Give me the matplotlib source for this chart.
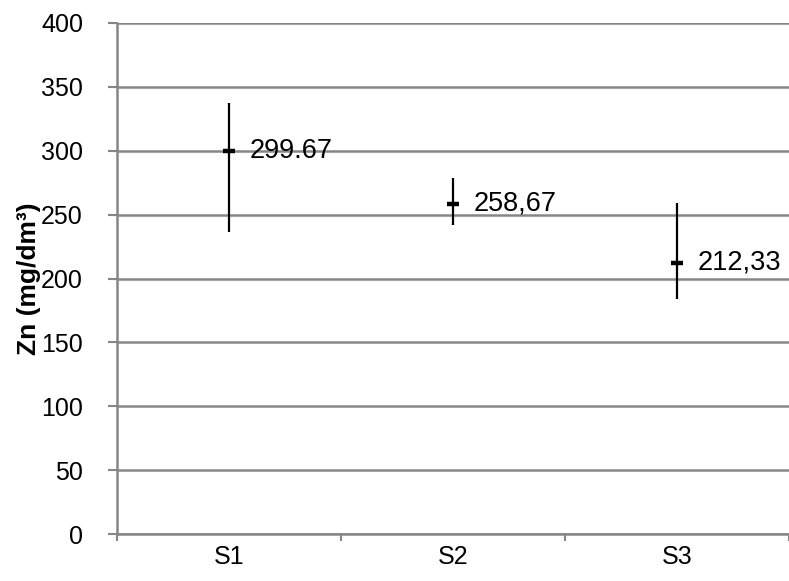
import matplotlib.pyplot as plt
import numpy as np

plt.rcParams['font.family'] = ['Liberation Sans', 'DejaVu Sans']

samples = ['S1', 'S2', 'S3']
means = [299.67, 258.67, 212.33]
highs = [337.5, 278.7, 258.8]
lows = [236.7, 241.7, 183.6]
value_labels = ['299.67', '258,67', '212,33']

grid_color = '#868686'

fig = plt.figure(figsize=(7.89, 5.81), dpi=100)
ax = fig.add_axes([117 / 789, 47 / 581, 672 / 789, 511 / 581])

x = np.arange(1, len(samples) + 1)
m = np.array(means)
yerr = [m - np.array(lows), np.array(highs) - m]

ax.errorbar(x, m, yerr=yerr, fmt='_', color='black', ecolor='black',
            elinewidth=1.6, capsize=0, markersize=9, mew=3.2, zorder=3)

for xi, yi, lab in zip(x, means, value_labels):
    ax.text(xi + 0.09, yi, lab, fontsize=19.5, va='center', ha='left', color='black')

ax.set_ylim(0, 400)
ax.set_yticks(np.arange(0, 401, 50))
ax.set_xlim(0.5, 0.5 + 672 / 226)
ax.set_xticks(x)
ax.set_xticklabels(samples)
ax.set_xticks(np.arange(0.5, 4, 1), minor=True)

ax.yaxis.grid(True, color=grid_color, linewidth=1.8)
ax.set_axisbelow(True)
for side in ['top', 'right']:
    ax.spines[side].set_visible(False)
for side in ['left', 'bottom']:
    ax.spines[side].set_color(grid_color)
    ax.spines[side].set_linewidth(1.8)

ax.tick_params(axis='y', length=6.5, width=1.5, color=grid_color, labelsize=18, pad=18)
ax.tick_params(axis='x', which='major', length=0, labelsize=18, pad=8)
ax.tick_params(axis='x', which='minor', length=5, width=1.5, color=grid_color)

ax.set_ylabel('Zn (mg/dm³)', fontsize=19, fontweight='bold', labelpad=0)

fig.savefig('out.png', dpi=100)
